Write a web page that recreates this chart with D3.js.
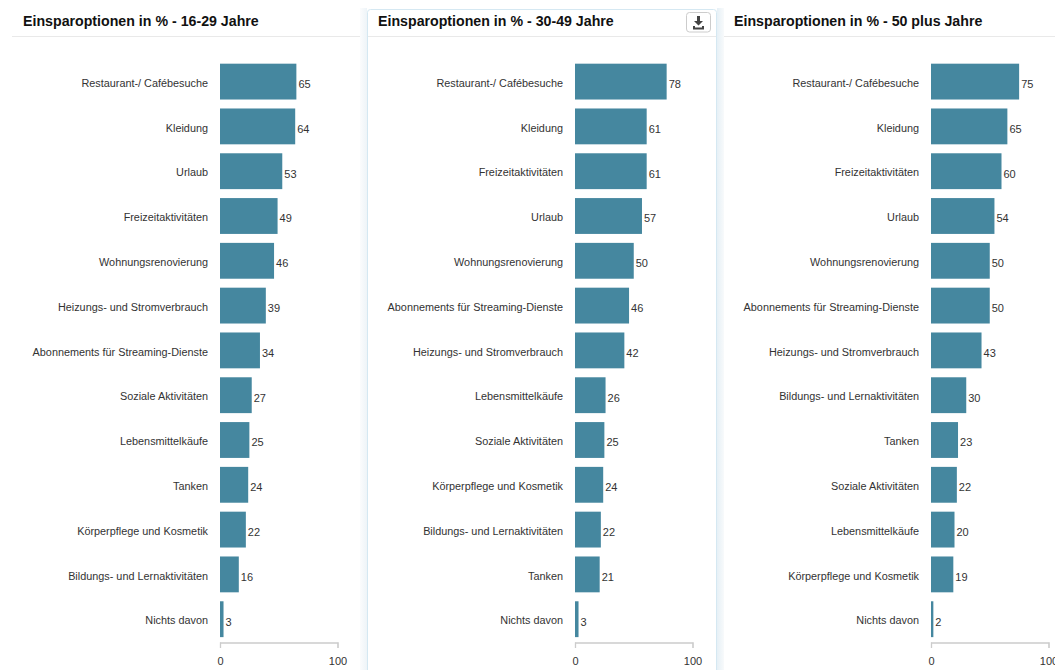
<!DOCTYPE html>
<html><head><meta charset="utf-8">
<script src="https://cdn.jsdelivr.net/npm/d3@7/dist/d3.min.js"></script>
<style>html,body{margin:0;padding:0;background:#fff;overflow:hidden}svg{display:block}</style>
</head><body><svg id="c" width="1055" height="670"></svg>
<script>
const titleA="Einsparoptionen in % - 16-29 Jahre";
const catsA=["Restaurant-/ Cafébesuche","Kleidung","Urlaub","Freizeitaktivitäten","Wohnungsrenovierung","Heizungs- und Stromverbrauch","Abonnements für Streaming-Dienste","Soziale Aktivitäten","Lebensmittelkäufe","Tanken","Körperpflege und Kosmetik","Bildungs- und Lernaktivitäten","Nichts davon"];
const valsA=[65,64,53,49,46,39,34,27,25,24,22,16,3];
const titleB="Einsparoptionen in % - 30-49 Jahre";
const catsB=["Restaurant-/ Cafébesuche","Kleidung","Freizeitaktivitäten","Urlaub","Wohnungsrenovierung","Abonnements für Streaming-Dienste","Heizungs- und Stromverbrauch","Lebensmittelkäufe","Soziale Aktivitäten","Körperpflege und Kosmetik","Bildungs- und Lernaktivitäten","Tanken","Nichts davon"];
const valsB=[78,61,61,57,50,46,42,26,25,24,22,21,3];
const titleC="Einsparoptionen in % - 50 plus Jahre";
const catsC=["Restaurant-/ Cafébesuche","Kleidung","Freizeitaktivitäten","Urlaub","Wohnungsrenovierung","Abonnements für Streaming-Dienste","Heizungs- und Stromverbrauch","Bildungs- und Lernaktivitäten","Tanken","Soziale Aktivitäten","Lebensmittelkäufe","Körperpflege und Kosmetik","Nichts davon"];
const valsC=[75,65,60,54,50,50,43,30,23,22,20,19,2];
const ticks=[0,100];
const font="Arial, 'Liberation Sans', sans-serif";
const color="#45879f";
const svg=d3.select("#c");
const panels=[
 {t:titleA,c:catsA,v:valsA,x0:12,x1:360,px:220,tx:23},
 {t:titleB,c:catsB,v:valsB,x0:368,x1:716,px:575,tx:378},
 {t:titleC,c:catsC,v:valsC,x0:724,x1:1055,px:931,tx:734}
];
const defs=svg.append("defs");
const gl=defs.append("linearGradient").attr("id","gl");
gl.append("stop").attr("offset",0).attr("stop-color","#fbfcfd");
gl.append("stop").attr("offset",1).attr("stop-color","#eef4f8");
const gr=defs.append("linearGradient").attr("id","gr");
gr.append("stop").attr("offset",0).attr("stop-color","#e6f0f6");
gr.append("stop").attr("offset",1).attr("stop-color","#f8fafb");
svg.append("rect").attr("x",360).attr("y",8).attr("width",7).attr("height",662).attr("fill","url(#gl)");
svg.append("rect").attr("x",717).attr("y",8).attr("width",7).attr("height",662).attr("fill","url(#gr)");
svg.append("path").attr("d","M367.5,670V12.5Q367.5,9.5 370.5,9.5H713.5Q716.5,9.5 716.5,12.5V670").attr("fill","none").attr("stroke","#d5e8f2");
panels.forEach(p=>{
 const g=svg.append("g");
 g.append("line").attr("x1",p.x0).attr("x2",p.x1).attr("y1",36.5).attr("y2",36.5).attr("stroke","#e9e9e9");
 g.append("text").attr("x",p.tx).attr("y",26).attr("font-family",font).attr("font-size",14.2).attr("font-weight",700).attr("fill","#111").text(p.t);
 const x=d3.scaleLinear().domain([0,100]).range([p.px,p.px+117.5]);
 const y=d3.scaleBand().domain(p.c).range([59.2,641.6]).paddingInner(0.2).paddingOuter(0.1);
 g.selectAll("rect").data(p.v).join("rect")
  .attr("x",x(0)).attr("y",(d,i)=>y(p.c[i])).attr("width",d=>x(d)-x(0)).attr("height",y.bandwidth()).attr("fill",color);
 g.selectAll(".val").data(p.v).join("text").attr("class","val")
  .attr("x",d=>x(d)+2).attr("y",(d,i)=>y(p.c[i])+y.bandwidth()/2+6.3)
  .attr("font-family",font).attr("font-size",11).attr("fill","#333").text(d=>d);
 g.selectAll(".cat").data(p.c).join("text").attr("class","cat")
  .attr("x",p.px-12).attr("y",d=>y(d)+y.bandwidth()/2+5.2)
  .attr("text-anchor","end").attr("font-family",font).attr("font-size",10.85).attr("fill","#333").text(d=>d);
 const ax=g.append("g").attr("transform","translate(0,642.5)").call(d3.axisBottom(x).tickValues(ticks).tickSize(5.5).tickPadding(9));
 ax.select(".domain").attr("stroke","#ccc").attr("stroke-width",1.3);
 ax.selectAll("line").attr("stroke","#ccc");
 ax.selectAll("text").attr("font-family",font).attr("font-size",11).attr("fill","#333");
});
const b=svg.append("g").attr("transform","translate(686,12)");
b.append("rect").attr("x",.5).attr("y",.5).attr("width",24).attr("height",19.5).attr("rx",3).attr("fill","#fff").attr("stroke","#ccc");
b.append("path").attr("d","M11,4h3v5h3l-4.5,4.5L8,9h3zM7,14h2v1.5h7V14h2v3.5H7z").attr("fill","#444");
</script></body></html>
